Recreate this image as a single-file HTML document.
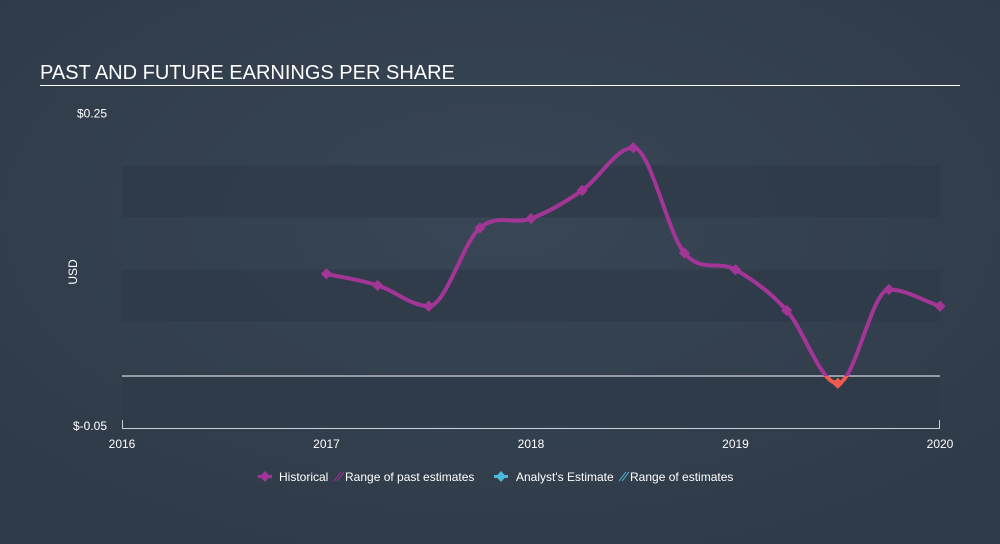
<!DOCTYPE html>
<html><head><meta charset="utf-8"><style>
body{margin:0;width:1000px;height:544px;overflow:hidden;background:#333f4e;font-family:"Liberation Sans",sans-serif}
svg{display:block}
</style></head><body>
<svg id="chart" width="1000" height="544" xmlns="http://www.w3.org/2000/svg">
<defs>
<radialGradient id="bg" cx="50%" cy="40%" r="70%"><stop offset="0" stop-color="#384655"/><stop offset="1" stop-color="#2f3a48"/></radialGradient>
</defs>
<rect width="1000" height="544" fill="url(#bg)"/>
<text x="40" y="79" fill="#fff" font-size="20">PAST AND FUTURE EARNINGS PER SHARE</text>
<line x1="40" y1="85.5" x2="960" y2="85.5" stroke="#fff" stroke-width="1"/>
<text transform="translate(77,272) rotate(-90)" fill="#fff" font-size="12" text-anchor="middle">USD</text>
<g id="bands"></g><g id="axes"></g><g id="series"></g>
<g font-size="12" fill="#fff">
<g><rect x="258" y="475" width="14" height="3" fill="#a33597"/><polygon points="265,471 270,476.5 265,482 260,476.5" fill="#a33597"/><text x="279" y="481">Historical</text></g>
<g><line x1="334" y1="481" x2="341" y2="472" stroke="#a33597"/><line x1="337" y1="481" x2="344" y2="472" stroke="#a33597"/><text x="345" y="481">Range of past estimates</text></g>
<g><rect x="494" y="475" width="14" height="3" fill="#4fb8d8"/><polygon points="501,471 506,476.5 501,482 496,476.5" fill="#4fb8d8"/><text x="516" y="481">Analyst's Estimate</text></g>
<g><line x1="619" y1="481" x2="626" y2="472" stroke="#4fb8d8"/><line x1="622" y1="481" x2="629" y2="472" stroke="#4fb8d8"/><text x="630" y="481">Range of estimates</text></g>
</g>
</svg>
<script>
const years=[2017,2017.25,2017.5,2017.75,2018,2018.25,2018.5,2018.75,2019,2019.25,2019.5,2019.75,2020];
const eps=[0.096,0.085,0.065,0.140,0.149,0.176,0.217,0.116,0.100,0.061,-0.009,0.081,0.065];
const xTicks=[2016,2017,2018,2019,2020];
const yTickLabels=["$0.25","$-0.05"];
const yTickVals=[0.25,-0.05];
const NS="http://www.w3.org/2000/svg";
const x=v=>122+(v-2016)*204.5;
const y=v=>374-v*1043;
function mk(t,a,p){const e=document.createElementNS(NS,t);for(const k in a)e.setAttribute(k,a[k]);p.appendChild(e);return e;}
const bands=document.getElementById('bands'),axes=document.getElementById('axes'),ser=document.getElementById('series');
[[0.2,0.15],[0.1,0.05],[0,-0.05]].forEach(b=>{
 const r=mk('rect',{x:122,y:y(b[0]),width:818,height:y(b[1])-y(b[0]),fill:'#2f3b49',opacity:0.85},bands);
 
 
});
const z=mk('line',{x1:122,x2:940,y1:y(0)+2,y2:y(0)+2,stroke:'#fff','stroke-width':1},axes);


mk('path',{d:`M122.5 ${y(-0.05)-6} V428.5 H939.5 V${y(-0.05)-6}`,stroke:'#c9d0da',fill:'none'},axes);
xTicks.forEach(t=>{
 const tx=mk('text',{x:x(t),y:448,fill:'#fff','font-size':12,'text-anchor':'middle'},axes);tx.textContent=t;
 
 
});
yTickVals.forEach((v,i)=>{
 const tx=mk('text',{x:107,y:y(v)+4,fill:'#fff','font-size':12,'text-anchor':'end'},axes);tx.textContent=yTickLabels[i];
 
 
});
const P=years.map((t,i)=>[x(t),y(eps[i])]);
const n=P.length,d=[],m=[];
for(let i=0;i<n-1;i++)d.push((P[i+1][1]-P[i][1])/(P[i+1][0]-P[i][0]));
for(let i=0;i<n;i++){if(i==0)m.push(d[0]);else if(i==n-1)m.push(d[n-2]);else m.push(d[i-1]*d[i]<=0?0:(d[i-1]+d[i])/2);}
let path=`M${P[0][0]} ${P[0][1]}`;
for(let i=0;i<n-1;i++){const h=(P[i+1][0]-P[i][0])/3;path+=` C${P[i][0]+h} ${P[i][1]+m[i]*h} ${P[i+1][0]-h} ${P[i+1][1]-m[i+1]*h} ${P[i+1][0]} ${P[i+1][1]}`;}
const cp=mk('clipPath',{id:'neg'},ser);mk('rect',{x:0,y:y(0)+2,width:1000,height:200},cp);
const cp2=mk('clipPath',{id:'pos'},ser);mk('rect',{x:0,y:0,width:1000,height:y(0)+2},cp2);
const l1=mk('path',{d:path,fill:'none',stroke:'#a33597','stroke-width':4,'clip-path':'url(#pos)'},ser);


const l2=mk('path',{d:path,fill:'none',stroke:'#f05a4f','stroke-width':4,'clip-path':'url(#neg)'},ser);


P.forEach((p,i)=>{
 const r=mk('rect',{x:p[0]-4,y:p[1]-4,width:8,height:8,fill:eps[i]<0?'#f05a4f':'#a33597',transform:`rotate(45 ${p[0]} ${p[1]})`},ser);
 
 
});
</script>
</body></html>
